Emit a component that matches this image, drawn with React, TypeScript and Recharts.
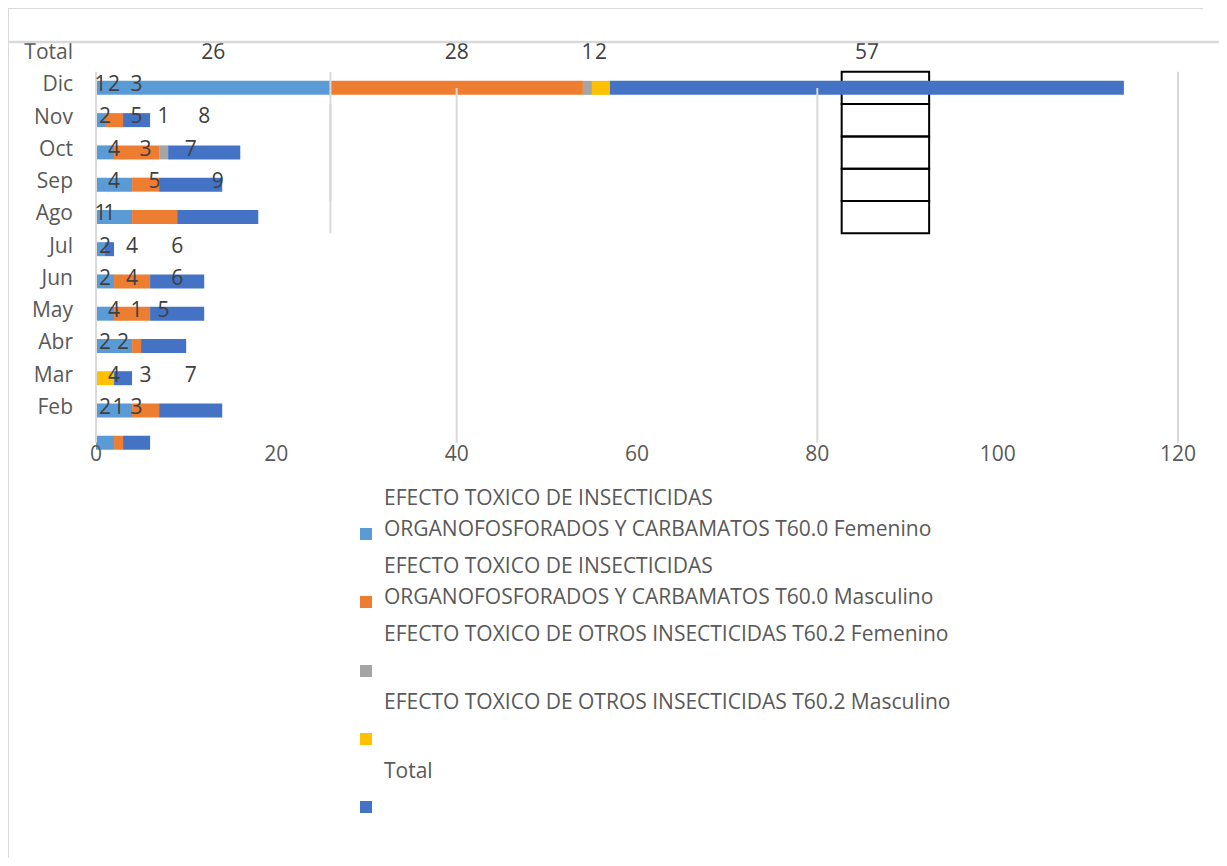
import React from "react";
import {
  BarChart,
  Bar,
  XAxis,
  YAxis,
  Legend,
  LabelList,
  ReferenceLine,
  ReferenceArea,
} from "recharts";

// ---------- data ----------
const MONTHS = ["Total", "Dic", "Nov", "Oct", "Sep", "Ago", "Jul", "Jun", "May", "Abr", "Mar", "Feb", ""];
const T600_FEM = [null, 26, 1, 2, 4, 4, 1, 2, 2, 4, 0, 4, 2];
const T600_MASC = [null, 28, 2, 5, 3, 5, 0, 4, 4, 1, 0, 3, 1];
const T602_FEM = [null, 1, 0, 1, 0, 0, 0, 0, 0, 0, 0, 0, 0];
const T602_MASC = [null, 2, 0, 0, 0, 0, 0, 0, 0, 0, 2, 0, 0];
const TOTAL = [null, 57, 3, 8, 7, 9, 1, 6, 6, 5, 2, 7, 3];
const X_TICKS = [0, 20, 40, 60, 80, 100, 120];

const SERIES = [
  { key: "t600f", name: "EFECTO TOXICO DE INSECTICIDAS\nORGANOFOSFORADOS Y CARBAMATOS T60.0 Femenino", values: T600_FEM, color: "#5B9BD5" },
  { key: "t600m", name: "EFECTO TOXICO DE INSECTICIDAS\nORGANOFOSFORADOS Y CARBAMATOS T60.0 Masculino", values: T600_MASC, color: "#ED7D31" },
  { key: "t602f", name: "EFECTO TOXICO DE OTROS INSECTICIDAS T60.2 Femenino", values: T602_FEM, color: "#A5A5A5" },
  { key: "t602m", name: "EFECTO TOXICO DE OTROS INSECTICIDAS T60.2 Masculino", values: T602_MASC, color: "#FFC000" },
  { key: "total", name: "Total", values: TOTAL, color: "#4472C4" },
];

const data = MONTHS.map((m, i) => {
  const row: Record<string, any> = { month: m };
  SERIES.forEach((s) => (row[s.key] = s.values[i]));
  return row;
});

// ---------- layout (page coordinates; wrapper cancels the body margin) ----------
const W = 1227;
const H = 866;
const PLOT_TOP = 39.6;
const PLOT_LEFT = 96;
const PLOT_RIGHT = 1178;
const PLOT_BOTTOM = 459;
const X_AXIS_H = 30;
const ROW_STEP = (PLOT_BOTTOM - PLOT_TOP) / MONTHS.length;
const FONT = "'Open Sans', sans-serif";
const FS = 21;
const FRAME = "#d9d9d9";

const GRID_LINES = [
  { x: 0, from: "Dic", to: "", pos: ["start", "middle"] },
  { x: 40, from: "Dic", to: "", pos: ["middle"] },
  { x: 80, from: "Dic", to: "", pos: ["middle"] },
  { x: 120, from: "Dic", to: "", pos: ["start", "middle"] },
];
const OVER_LINES = [{ x: 26, from: "Dic", to: "Ago", pos: ["start", "end"] }];
const BOX_X = [82.7, 92.4];
const BOX_ROWS = ["Dic", "Nov", "Oct", "Sep", "Ago"];

const YTick = (props: any) => {
  const { x, y, payload } = props;
  return (
    <text x={x} y={y - 4} dy="0.35em" textAnchor="end" fill="#595959" fontSize={FS} fontFamily={FONT}>
      {payload.value}
    </text>
  );
};

const XTick = (props: any) => {
  const { x, y, payload } = props;
  return (
    <text x={x} y={y - 13} dy="0.35em" textAnchor="middle" fill="#595959" fontSize={FS} fontFamily={FONT}>
      {payload.value}
    </text>
  );
};

const ShiftedLabel = (props: any) => {
  const vb = props.viewBox || {};
  const x = props.x ?? vb.x;
  const y = props.y ?? vb.y;
  const width = props.width ?? vb.width;
  const height = props.height ?? vb.height;
  const v = props.value;
  if (!v) return null;
  return (
    <text
      x={x + width / 2}
      y={y + height / 2 - ROW_STEP - 4}
      dy="0.35em"
      textAnchor="middle"
      fill="#404040"
      fontSize={FS}
      fontFamily={FONT}
    >
      {v}
    </text>
  );
};

const renderLegend = (props: any) => {
  const payload = props.payload || [];
  return (
    <div style={{ fontFamily: FONT, fontSize: FS, color: "#595959" }}>
      {payload.map((e: any, i: number) => {
        const lines = String(e.value).split("\n");
        return (
          <div key={i} style={{ position: "relative", height: 68.3, whiteSpace: "nowrap" }}>
            <div style={{ position: "absolute", left: 24, top: 0, lineHeight: "31px" }}>
              {lines.map((l, j) => (
                <div key={j} style={{ height: 31 }}>{l}</div>
              ))}
            </div>
            <div
              style={{
                position: "absolute",
                left: 0,
                top: 46.5,
                width: 12,
                height: 12,
                background: e.color,
              }}
            />
          </div>
        );
      })}
    </div>
  );
};

const lineSegments = (lines: any[], prefix: string) =>
  lines.flatMap((g, i) =>
    g.pos.map((p: any, j: number) => (
      <ReferenceLine
        key={`${prefix}${i}-${j}`}
        segment={[{ x: g.x, y: g.from }, { x: g.x, y: g.to }]}
        position={p}
        stroke={FRAME}
        strokeWidth={2}
        ifOverflow="visible"
      />
    ))
  );

export default function App() {
  return (
    <div style={{ position: "relative", width: W, height: H, margin: -8, overflow: "hidden", background: "#fff" }}>
      <BarChart
        width={W}
        height={H}
        data={data}
        layout="vertical"
        barSize={14}
        margin={{ top: PLOT_TOP, left: 0, right: W - PLOT_RIGHT, bottom: H - PLOT_BOTTOM - X_AXIS_H }}
      >
        <XAxis
          type="number"
          domain={[0, 120]}
          ticks={X_TICKS}
          interval={0}
          axisLine={false}
          tickLine={false}
          height={X_AXIS_H}
          tick={<XTick />}
        />
        <YAxis
          type="category"
          dataKey="month"
          width={PLOT_LEFT}
          axisLine={false}
          tickLine={false}
          tickMargin={17}
          interval={0}
          tick={<YTick />}
        />
        {lineSegments(GRID_LINES, "g")}
        {SERIES.map((s) => (
          <Bar key={s.key} dataKey={s.key} name={s.name} stackId="a" fill={s.color} isAnimationActive={false}>
            <LabelList dataKey={s.key} content={<ShiftedLabel />} />
          </Bar>
        ))}
        {lineSegments(OVER_LINES, "o")}
        {BOX_ROWS.map((r) => (
          <ReferenceArea
            key={"b" + r}
            x1={BOX_X[0]}
            x2={BOX_X[1]}
            y1={r}
            y2={r}
            fill="none"
            fillOpacity={0}
            stroke="#000"
            strokeWidth={2}
            strokeOpacity={1}
            ifOverflow="visible"
          />
        ))}
        <Legend
          layout="vertical"
          align="center"
          verticalAlign="middle"
          content={renderLegend}
          wrapperStyle={{ left: 360, top: 481.5, width: 800 }}
        />
      </BarChart>
      {/* frame */}
      <svg
        width={W}
        height={H}
        style={{ position: "absolute", left: 0, top: 0, pointerEvents: "none", zIndex: 10 }}
      >
        <line x1={6} y1={7.5} x2={1203} y2={7.5} stroke={FRAME} strokeWidth={3} />
        <line x1={7.5} y1={6} x2={7.5} y2={H} stroke={FRAME} strokeWidth={3} />
        <line x1={6} y1={42} x2={1226} y2={42} stroke={FRAME} strokeWidth={2.5} />
        <line x1={1222} y1={41} x2={1222} y2={H} stroke={FRAME} strokeWidth={3} />
      </svg>
    </div>
  );
}
